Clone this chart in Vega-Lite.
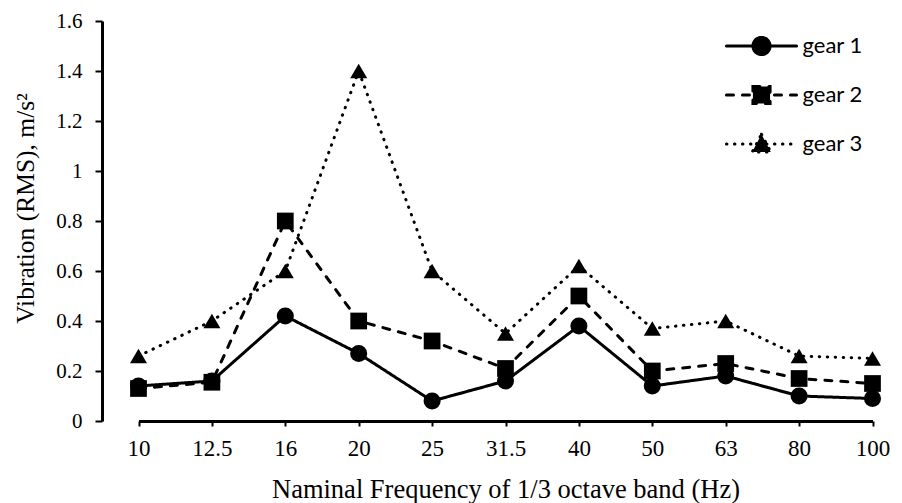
{
  "$schema": "https://vega.github.io/schema/vega-lite/v6.json",
  "width": 800,
  "height": 400,
  "autosize": {"type": "none"},
  "padding": {"left": 102, "top": 21, "right": 0, "bottom": 82},
  "background": "white",
  "config": {
    "view": {"stroke": null},
    "font": "Liberation Serif"
  },
  "data": {
    "values": [
      {"freq": "10", "gear": "gear 1", "v": 0.14},
      {"freq": "12.5", "gear": "gear 1", "v": 0.16},
      {"freq": "16", "gear": "gear 1", "v": 0.42},
      {"freq": "20", "gear": "gear 1", "v": 0.27},
      {"freq": "25", "gear": "gear 1", "v": 0.08},
      {"freq": "31.5", "gear": "gear 1", "v": 0.16},
      {"freq": "40", "gear": "gear 1", "v": 0.38},
      {"freq": "50", "gear": "gear 1", "v": 0.14},
      {"freq": "63", "gear": "gear 1", "v": 0.18},
      {"freq": "80", "gear": "gear 1", "v": 0.10},
      {"freq": "100", "gear": "gear 1", "v": 0.09},
      {"freq": "10", "gear": "gear 2", "v": 0.13},
      {"freq": "12.5", "gear": "gear 2", "v": 0.155},
      {"freq": "16", "gear": "gear 2", "v": 0.80},
      {"freq": "20", "gear": "gear 2", "v": 0.40},
      {"freq": "25", "gear": "gear 2", "v": 0.32},
      {"freq": "31.5", "gear": "gear 2", "v": 0.21},
      {"freq": "40", "gear": "gear 2", "v": 0.50},
      {"freq": "50", "gear": "gear 2", "v": 0.20},
      {"freq": "63", "gear": "gear 2", "v": 0.23},
      {"freq": "80", "gear": "gear 2", "v": 0.17},
      {"freq": "100", "gear": "gear 2", "v": 0.15},
      {"freq": "10", "gear": "gear 3", "v": 0.26},
      {"freq": "12.5", "gear": "gear 3", "v": 0.40},
      {"freq": "16", "gear": "gear 3", "v": 0.60},
      {"freq": "20", "gear": "gear 3", "v": 1.40},
      {"freq": "25", "gear": "gear 3", "v": 0.60},
      {"freq": "31.5", "gear": "gear 3", "v": 0.35},
      {"freq": "40", "gear": "gear 3", "v": 0.62},
      {"freq": "50", "gear": "gear 3", "v": 0.37},
      {"freq": "63", "gear": "gear 3", "v": 0.40},
      {"freq": "80", "gear": "gear 3", "v": 0.26},
      {"freq": "100", "gear": "gear 3", "v": 0.25}
    ]
  },
  "encoding": {
    "x": {
      "field": "freq",
      "type": "nominal",
      "scale": {
        "type": "point",
        "domain": ["10", "12.5", "16", "20", "25", "31.5", "40", "50", "63", "80", "100"],
        "range": [36.5, 770.5],
        "padding": 0
      },
      "axis": {
        "title": "Naminal Frequency of 1/3 octave band (Hz)",
        "titleFont": "Liberation Serif",
        "titleFontSize": 26.5,
        "titleFontWeight": "normal",
        "titleColor": "black",
        "titleBaseline": "alphabetic",
        "titleY": 76,
        "labelFont": "Liberation Serif",
        "labelFontSize": 23,
        "labelColor": "black",
        "labelAngle": 0,
        "labelPadding": 11,
        "labelBaseline": "top",
        "tickSize": 5,
        "tickWidth": 2,
        "tickColor": "black",
        "domainColor": "black",
        "domainWidth": 3,
        "grid": false
      }
    },
    "y": {
      "field": "v",
      "type": "quantitative",
      "scale": {"domain": [0, 1.6], "nice": false, "zero": true},
      "axis": {
        "title": "Vibration (RMS), m/s²",
        "titleFont": "Liberation Serif",
        "titleFontSize": 25.5,
        "titleFontWeight": "normal",
        "titleColor": "black",
        "titleBaseline": "alphabetic",
        "titleX": -69,
        "titleY": 187,
        "values": [0, 0.2, 0.4, 0.6, 0.8, 1, 1.2, 1.4, 1.6],
        "format": "~g",
        "labelFont": "Liberation Serif",
        "labelFontSize": 21,
        "labelColor": "black",
        "labelPadding": 13,
        "tickSize": 7,
        "tickWidth": 2,
        "tickColor": "black",
        "domainColor": "black",
        "domainWidth": 3,
        "grid": false
      }
    }
  },
  "layer": [
    {
      "mark": {"type": "line", "color": "black", "strokeWidth": 3, "strokeCap": "round"},
      "encoding": {
        "detail": {"field": "gear", "type": "nominal"},
        "strokeDash": {
          "field": "gear",
          "type": "nominal",
          "scale": {
            "domain": ["gear 1", "gear 2", "gear 3"],
            "range": [[1, 0], [7, 9], [0.5, 7.5]]
          },
          "legend": {
            "title": null,
            "orient": "none",
            "legendX": 633.5,
            "legendY": -1,
            "padding": 0,
            "rowPadding": 8,
            "symbolSize": 2401,
            "symbolStrokeWidth": 3,
            "symbolStrokeColor": "black",
            "labelFont": "Lato",
            "labelFontSize": 22,
            "labelColor": "black",
            "labelOffset": 15,
            "labelBaseline": "middle",
            "encode": {
              "symbols": {
                "update": {
                  "shape": {"signal": "datum.value === 'gear 1' ? 'M-1.43,0L1.43,0M-0.35,0A0.35,0.35,0,1,1,0.35,0A0.35,0.35,0,1,1,-0.35,0Z' : datum.value === 'gear 2' ? 'M-1.43,0L1.43,0M-0.35,-0.35L0.35,-0.35L0.35,0.35L-0.35,0.35Z' : 'M-1.43,0L1.43,0M0,-0.4L0.38,0.33L-0.38,0.33Z'"},
                  "fill": {"value": "black"},
                  "stroke": {"value": "black"},
                  "strokeWidth": {"value": 3},
                  "strokeCap": {"value": "round"},
                  "opacity": {"value": 1}
                }
              }
            }
          }
        }
      }
    },
    {
      "transform": [{"filter": "datum.gear === 'gear 1'"}],
      "mark": {"type": "point", "shape": "circle", "filled": true, "color": "black", "opacity": 1, "size": 290}
    },
    {
      "transform": [{"filter": "datum.gear === 'gear 2'"}],
      "mark": {"type": "point", "shape": "square", "filled": true, "color": "black", "opacity": 1, "size": 280}
    },
    {
      "transform": [{"filter": "datum.gear === 'gear 3'"}],
      "mark": {"type": "point", "shape": "triangle-up", "filled": true, "color": "black", "opacity": 1, "size": 290}
    }
  ]
}
